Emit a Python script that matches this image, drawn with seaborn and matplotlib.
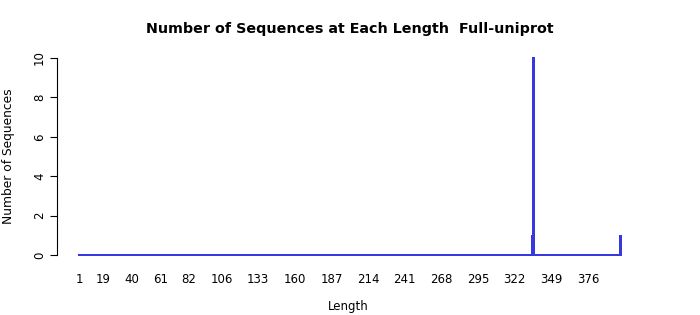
import numpy as np
import pandas as pd
import matplotlib
matplotlib.use("Agg")
import matplotlib.pyplot as plt
import seaborn as sns

# Data
min_length = 1
max_length = 400
seq_lengths = [335, 336, 400]
seq_counts = [1, 10, 1]
x_tick_labels = [1, 19, 40, 61, 82, 106, 133, 160, 187, 214, 241, 268, 295, 322, 349, 376]
y_ticks = [0, 2, 4, 6, 8, 10]

all_lengths = np.arange(min_length, max_length + 1)
counts = pd.Series(seq_counts, index=seq_lengths).reindex(all_lengths, fill_value=0)
df = pd.DataFrame({"Length": all_lengths, "Count": counts.values})

sns.set_style("white")
plt.rcParams["font.family"] = ["DejaVu Sans"]
plt.rcParams["text.color"] = "black"
plt.rcParams["axes.labelcolor"] = "black"
plt.rcParams["xtick.color"] = "black"
plt.rcParams["ytick.color"] = "black"

fig = plt.figure(figsize=(7, 3.15), dpi=100)
ax = fig.add_axes([57 / 700, 1 - 263 / 315, (640 - 57) / 700, 213 / 315])

sns.barplot(data=df, x="Length", y="Count", native_scale=True, errorbar=None,
            color="#7a00ff", edgecolor="#3838e0", linewidth=0.5, width=1.0,
            saturation=1, ax=ax)
for p in ax.patches:
    p.set_snap(False)
    p.set_antialiased(False)

for s in ["top", "right", "bottom"]:
    ax.spines[s].set_visible(False)
ax.spines["left"].set_bounds(0, 10)
ax.spines["left"].set_linewidth(0.8)
ax.spines["left"].set_color("black")

ax.set_xlim(-15.2, 414.3)
ax.set_ylim(-0.4, 10.4)
ax.set_xticks(x_tick_labels)
ax.set_xticklabels([str(v) for v in x_tick_labels], fontsize=8.5, color="black")
ax.set_yticks(y_ticks)
ax.set_yticklabels([str(v) for v in y_ticks], fontsize=8.5, color="black")
ax.tick_params(axis="x", length=0, pad=7, labelsize=8.5)
ax.tick_params(axis="y", length=5, width=0.8, color="black", pad=3, left=True,
               labelrotation=90, labelsize=8.5)
for lab in ax.get_yticklabels():
    lab.set_va("center")

ax.set_xlabel("Length", fontsize=8.5, labelpad=10, color="black")
ax.set_ylabel("Number of Sequences", fontsize=8.8, labelpad=13, color="black")
fig.suptitle("Number of Sequences at Each Length  Full-uniprot", fontsize=10.25,
             fontweight="bold", x=0.5, y=1 - 29 / 315, va="center", color="black")

fig.savefig("out.png", dpi=100)
